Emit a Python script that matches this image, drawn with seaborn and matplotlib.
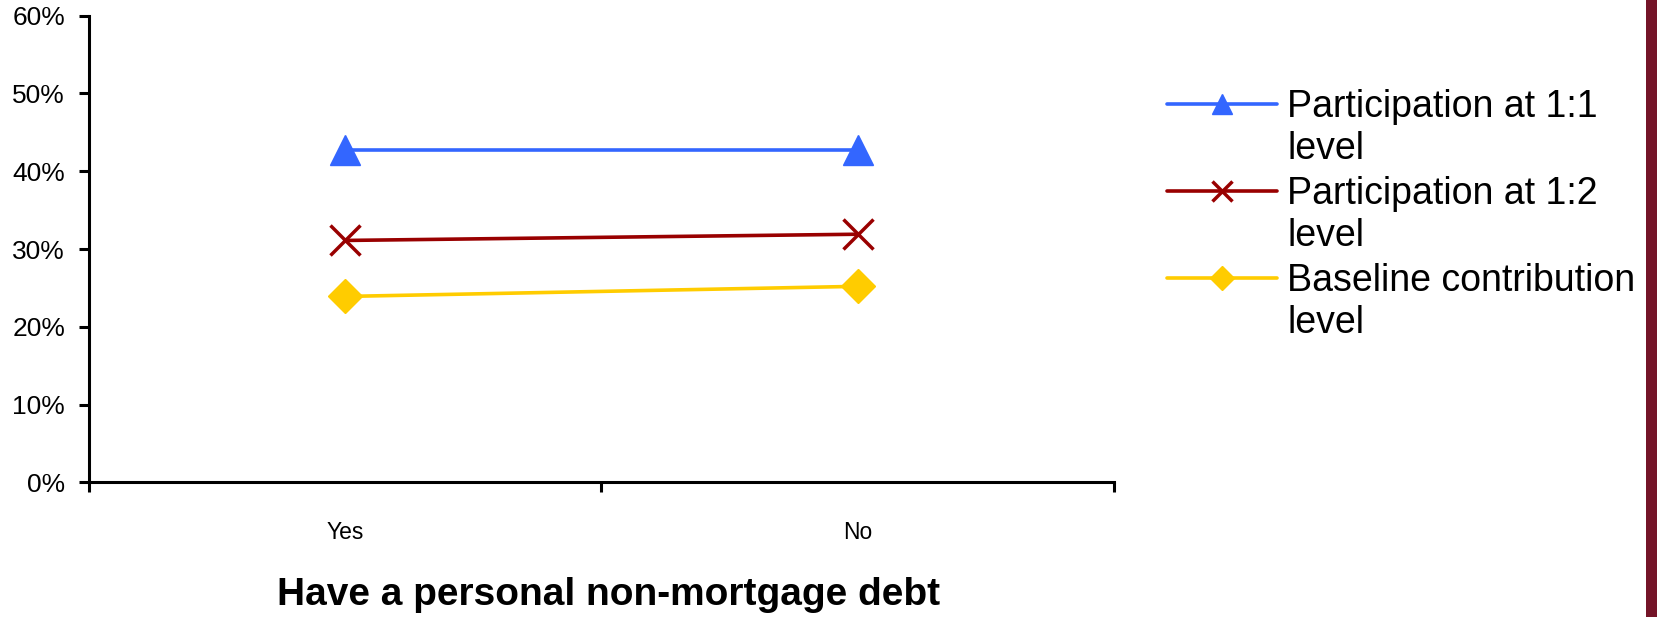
import numpy as np
import pandas as pd
import matplotlib
matplotlib.use("Agg")
import matplotlib.pyplot as plt
from matplotlib import font_manager
from matplotlib.patches import Rectangle
from matplotlib.ticker import PercentFormatter, MultipleLocator
from matplotlib.legend_handler import HandlerLine2D
import seaborn as sns

# Share of participants (%) by whether they hold a personal non-mortgage debt
categories = ["Yes", "No"]
series_names = [
    "Participation at 1:1\nlevel",
    "Participation at 1:2\nlevel",
    "Baseline contribution\nlevel",
]
participation_1_1 = [42.7, 42.7]
participation_1_2 = [31.1, 31.9]
baseline_level = [23.9, 25.2]

series_values = [participation_1_1, participation_1_2, baseline_level]
series_colors = ["#3366FF", "#990000", "#FFCC00"]
series_markers = ["^", "x", "D"]
marker_sizes = [21.5, 21.5, 17]
marker_edge = [1.0, 2.5, 1.0]

sns.set_style("white")
plt.rcParams["font.family"] = ["Liberation Sans", "DejaVu Sans"]
plt.rcParams["text.color"] = "black"
plt.rcParams["axes.labelcolor"] = "black"

# a narrow face for the category labels when one is installed
installed = {f.name for f in font_manager.fontManager.ttflist}
narrow = "Liberation Sans Narrow" if "Liberation Sans Narrow" in installed else None

fig = plt.figure(figsize=(16.58, 6.17), dpi=100)
ax = fig.add_axes([0.05368, 0.21831, 0.61821, 0.75624])

for name, vals, col, mk, ms, mew in zip(series_names, series_values, series_colors,
                                        series_markers, marker_sizes, marker_edge):
    df = pd.DataFrame({"debt": pd.Categorical(categories, categories=categories),
                       "value": vals})
    sns.lineplot(data=df, x="debt", y="value", color=col, marker=mk,
                 markersize=ms, markeredgecolor=col, markerfacecolor=col,
                 markeredgewidth=mew, linewidth=2.6, sort=False, label=name,
                 legend=False, ax=ax)

ax.set_xlim(-0.5, 1.5)
ax.set_ylim(0, 60)

# category boundaries carry the tick marks; labels sit between them
ax.set_xticks([-0.5, 0.5, 1.5])
ax.set_xticklabels(["", "", ""])
ax.set_xticks([0, 1], labels=categories, minor=True)
ax.tick_params(axis="x", which="major", direction="out", length=7.2, width=2.2,
               color="black", bottom=True)
ax.tick_params(axis="x", which="minor", length=0, pad=28,
               labelsize=18.5 if narrow else 16.5, labelcolor="black")
if narrow:
    for t in ax.get_xticklabels(minor=True):
        t.set_family([narrow, "Liberation Sans"])

ax.yaxis.set_major_locator(MultipleLocator(10))
ax.yaxis.set_major_formatter(PercentFormatter(decimals=0))
ax.tick_params(axis="y", direction="out", length=7.2, width=2.2, color="black",
               left=True, pad=10, labelsize=19, labelcolor="black")

for side in ("top", "right"):
    ax.spines[side].set_visible(False)
for side in ("left", "bottom"):
    ax.spines[side].set_color("black")
    ax.spines[side].set_linewidth(2.2)

ax.set_ylabel("")
ax.set_xlabel("Have a personal non-mortgage debt", fontsize=28,
              fontweight="bold", color="black", va="top")
ax.xaxis.set_label_coords(0.507, -0.203)


class FirstLineHandler(HandlerLine2D):
    """Keep the legend key level with the first line of a two-line label."""

    def create_artists(self, legend, orig_handle, xdescent, ydescent,
                       width, height, fontsize, trans):
        artists = super().create_artists(legend, orig_handle, xdescent,
                                         ydescent, width, height, fontsize, trans)
        shift = 0.66 * fontsize
        for a in artists:
            a.set_ydata(np.asarray(a.get_ydata(), dtype=float) + shift)
        return artists


handles = list(ax.lines)
leg = fig.legend(
    handles=handles, labels=series_names,
    handler_map={type(handles[0]): FirstLineHandler()},
    loc="upper left", bbox_to_anchor=(0.7039, 0.855),
    frameon=False, fontsize=27, borderpad=0, borderaxespad=0,
    handlelength=2.93, handletextpad=0.28, labelspacing=0.25,
    markerscale=0.7, numpoints=1, labelcolor="black",
)

# dark red band along the right edge
fig.patches.append(Rectangle((0.99276, 0), 0.00724, 1, transform=fig.transFigure,
                             facecolor="#741428", edgecolor="none"))

fig.savefig("out.png", dpi=100)
